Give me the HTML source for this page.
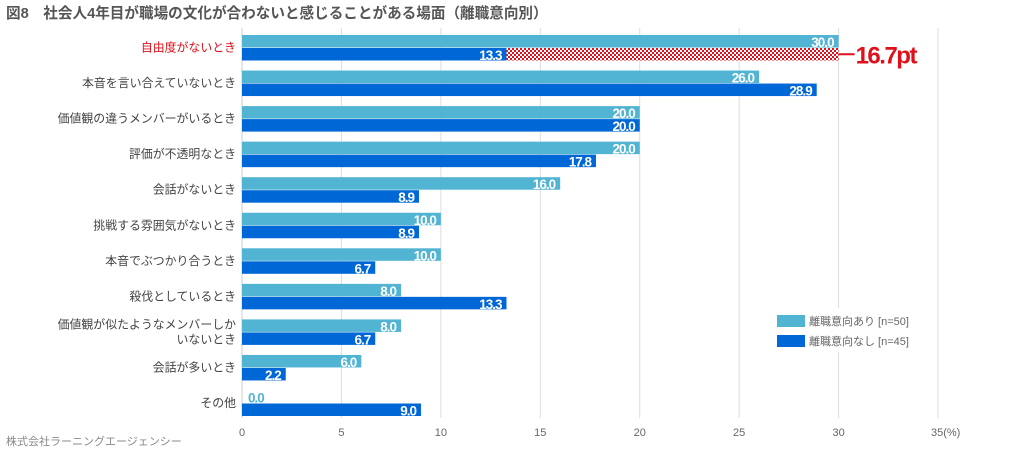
<!DOCTYPE html>
<html><head><meta charset="utf-8"><style>
body{margin:0;background:#fff;}
svg{display:block;font-family:"Liberation Sans","Noto Sans CJK JP",sans-serif;}
.v{font-family:"Liberation Sans",sans-serif;font-weight:bold;font-size:13.5px;letter-spacing:-1px;}
</style></head><body>
<svg id="c" width="1020" height="454">
<defs>
<pattern id="chk" width="4" height="4" patternUnits="userSpaceOnUse">
<rect width="4" height="4" fill="#fff"/><rect width="2" height="2" fill="#e0101a"/><rect x="2" y="2" width="2" height="2" fill="#e0101a"/>
</pattern>
</defs>
<text x="6" y="18" font-size="14.6" font-weight="bold" fill="#555">図8　社会人4年目が職場の文化が合わないと感じることがある場面（離職意向別）</text>
<g id="grid"></g>
<g id="bars"></g>
<g>
<rect x="768" y="308" width="160" height="44" fill="#fff"/>
<rect x="777" y="315" width="28" height="12" fill="#52b4d3"/>
<text x="809" y="325" font-size="11" fill="#666">離職意向あり [n=50]</text>
<rect x="777" y="335" width="28" height="12" fill="#0068d6"/>
<text x="809" y="345" font-size="11" fill="#666">離職意向なし [n=45]</text>
</g>
<text x="6" y="445" font-size="11" fill="#888">株式会社ラーニングエージェンシー</text>
</svg>
<script>
const categories=["自由度がないとき","本音を言い合えていないとき","価値観の違うメンバーがいるとき","評価が不透明なとき","会話がないとき","挑戦する雰囲気がないとき","本音でぶつかり合うとき","殺伐としているとき","価値観が似たようなメンバーしか|いないとき","会話が多いとき","その他"];
const seriesYes=[30.0,26.0,20.0,20.0,16.0,10.0,10.0,8.0,8.0,6.0,0.0];
const seriesNo=[13.3,28.9,20.0,17.8,8.9,8.9,6.7,13.3,6.7,2.2,9.0];
const ticks=[0,5,10,15,20,25,30,35];
const NS="http://www.w3.org/2000/svg";
const x0=242,pxu=19.886,top0=35,pitch=35.55,bh=12.5;
const X=v=>x0+v*pxu;
function mk(t,a,p){const e=document.createElementNS(NS,t);for(const k in a)e.setAttribute(k,a[k]);p.appendChild(e);return e;}
const grid=document.getElementById('grid'),bars=document.getElementById('bars');
ticks.forEach((t,i)=>{
  if(t>0){const l=mk('line',{x1:X(t),x2:X(t),y1:28,y2:418,stroke:'#ddd','stroke-width':1},grid);
  
  }
  const tx=mk('text',{x:X(t),y:436,'font-size':11,fill:'#666','text-anchor':i==ticks.length-1?'start':'middle'},grid);
  if(i==ticks.length-1)tx.setAttribute('x',X(t)-7);
  tx.textContent=t+(i==ticks.length-1?'(%)':'');
  
  
});
const ax=mk('line',{x1:x0,x2:x0,y1:28,y2:418,stroke:'#ccc','stroke-width':1},grid);


function val(v,x,y,fill,p){const t=mk('text',{x:x,y:y,fill:fill,'text-anchor':v==0?'start':'end',class:'v'},p);t.textContent=v.toFixed(1);

}
categories.forEach((c,i)=>{
  const y=top0+i*pitch;
  const lines=c.split('|');
  const lab=mk('text',{x:236,'text-anchor':'end','font-size':11.9,fill:i==0?'#e0101a':'#444'},bars);
  
  
  lines.forEach((s,j)=>{const ts=mk('tspan',{x:236,y:y+bh+4+(j-(lines.length-1)/2)*15},lab);ts.textContent=s;});
  const a=mk('rect',{x:x0,y:y,width:X(seriesYes[i])-x0,height:bh,fill:'#52b4d3'},bars);
  
  
  const b=mk('rect',{x:x0,y:y+bh+0.5,width:X(seriesNo[i])-x0,height:bh,fill:'#0068d6'},bars);
  
  
  if(seriesYes[i]==0)val(0,248,y+bh-0.5,'#52b4d3',bars);else val(seriesYes[i],X(seriesYes[i])-5,y+bh-0.5,'#fff',bars);
  val(seriesNo[i],X(seriesNo[i])-5,y+2*bh,'#fff',bars);
});
const y1=top0+bh+0.5;
const h=mk('rect',{x:X(seriesNo[0]),y:y1,width:X(seriesYes[0])-X(seriesNo[0]),height:bh,fill:'url(#chk)'},bars);


const gl=mk('line',{x1:X(seriesYes[0]),x2:X(seriesYes[0])+16,y1:y1+bh/2,y2:y1+bh/2,stroke:'#e0101a','stroke-width':2},bars);


const gt=mk('text',{x:X(seriesYes[0])+17,y:y1+bh/2+9,fill:'#e0101a','font-size':24,'font-weight':'bold','letter-spacing':'-1.5'},bars);
gt.textContent=(seriesYes[0]-seriesNo[0]).toFixed(1)+'pt';


</script>
</body></html>
